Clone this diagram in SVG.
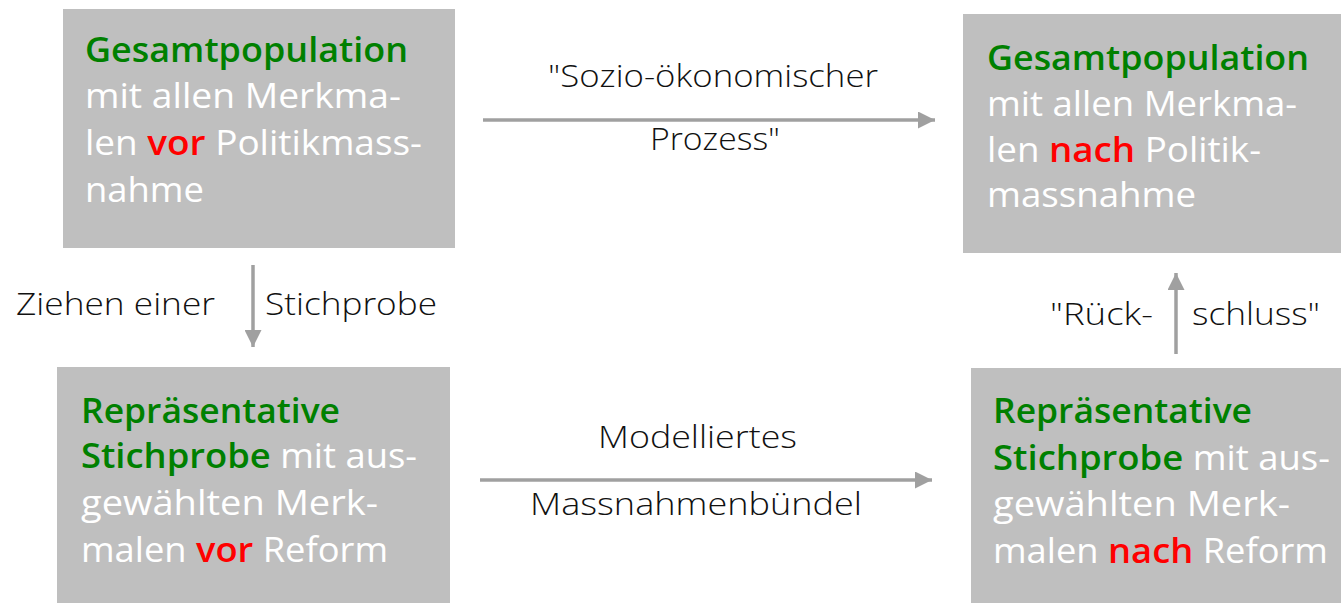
<svg xmlns="http://www.w3.org/2000/svg" width="1341" height="603" viewBox="0 0 1341 603">
<style>
.box{fill:#bfbfbf}
.bt{font-family:"Open Sans","Liberation Sans",sans-serif;font-size:35px;fill:#ffffff;font-weight:500}
.g{fill:#008000;font-weight:600}
.r{fill:#ff0000;font-weight:600}
.lb{font-family:"Open Sans","Liberation Sans",sans-serif;font-size:32px;fill:#111111;font-weight:300}
.conn{stroke:#a0a0a0;stroke-width:3.5;fill:none}
</style>
<defs>
<marker id="ah" viewBox="0 0 10 10" refX="10" refY="5" markerWidth="17" markerHeight="17" markerUnits="userSpaceOnUse" orient="auto">
<path d="M0,0 L10,5 L0,10 Z" fill="#a0a0a0"/>
</marker>
</defs>
<rect width="1341" height="603" fill="#ffffff"/>
<g id="node-pop-vor">
<rect class="box" x="63" y="9" width="392" height="239"/>
<text class="bt" x="85" y="62" textLength="323" lengthAdjust="spacingAndGlyphs"><tspan class="g">Gesamtpopulation</tspan></text>
<text class="bt" x="85" y="108" textLength="316" lengthAdjust="spacingAndGlyphs">mit allen Merkma-</text>
<text class="bt" x="85" y="155" textLength="337" lengthAdjust="spacingAndGlyphs">len <tspan class="r">vor</tspan> Politikmass-</text>
<text class="bt" x="85" y="202" textLength="119" lengthAdjust="spacingAndGlyphs">nahme</text>
</g>
<g id="node-pop-nach">
<rect class="box" x="963" y="14" width="378" height="239"/>
<text class="bt" x="987" y="70" textLength="322" lengthAdjust="spacingAndGlyphs"><tspan class="g">Gesamtpopulation</tspan></text>
<text class="bt" x="987" y="116" textLength="310" lengthAdjust="spacingAndGlyphs">mit allen Merkma-</text>
<text class="bt" x="987" y="162" textLength="274" lengthAdjust="spacingAndGlyphs">len <tspan class="r">nach</tspan> Politik-</text>
<text class="bt" x="987" y="207" textLength="209" lengthAdjust="spacingAndGlyphs">massnahme</text>
</g>
<g id="node-stich-vor">
<rect class="box" x="57" y="367" width="393" height="236"/>
<text class="bt" x="81" y="423" textLength="259" lengthAdjust="spacingAndGlyphs"><tspan class="g">Repräsentative</tspan></text>
<text class="bt" x="81" y="468" textLength="336" lengthAdjust="spacingAndGlyphs"><tspan class="g">Stichprobe</tspan> mit aus-</text>
<text class="bt" x="81" y="515" textLength="297" lengthAdjust="spacingAndGlyphs">gewählten Merk-</text>
<text class="bt" x="81" y="562" textLength="307" lengthAdjust="spacingAndGlyphs">malen <tspan class="r">vor</tspan> Reform</text>
</g>
<g id="node-stich-nach">
<rect class="box" x="971" y="368" width="370" height="235"/>
<text class="bt" x="993" y="423" textLength="259" lengthAdjust="spacingAndGlyphs"><tspan class="g">Repräsentative</tspan></text>
<text class="bt" x="993" y="470" textLength="337" lengthAdjust="spacingAndGlyphs"><tspan class="g">Stichprobe</tspan> mit aus-</text>
<text class="bt" x="993" y="516" textLength="297" lengthAdjust="spacingAndGlyphs">gewählten Merk-</text>
<text class="bt" x="993" y="563" textLength="335" lengthAdjust="spacingAndGlyphs">malen <tspan class="r">nach</tspan> Reform</text>
</g>
<g id="connectors">
<line class="conn" x1="483" y1="120" x2="935" y2="120" marker-end="url(#ah)"/>
<line class="conn" x1="480" y1="480" x2="932" y2="480" marker-end="url(#ah)"/>
<line class="conn" x1="253" y1="265" x2="253" y2="347" marker-end="url(#ah)"/>
<line class="conn" x1="1176" y1="354" x2="1176" y2="273" marker-end="url(#ah)"/>
<text class="lb" x="548" y="87" textLength="330" lengthAdjust="spacingAndGlyphs">"Sozio-ökonomischer</text>
<text class="lb" x="650" y="150" textLength="130" lengthAdjust="spacingAndGlyphs">Prozess"</text>
<text class="lb" x="598" y="448" textLength="199" lengthAdjust="spacingAndGlyphs">Modelliertes</text>
<text class="lb" x="530" y="515" textLength="332" lengthAdjust="spacingAndGlyphs">Massnahmenbündel</text>
<text class="lb" x="16" y="315" textLength="199" lengthAdjust="spacingAndGlyphs">Ziehen einer</text>
<text class="lb" x="265" y="315" textLength="172" lengthAdjust="spacingAndGlyphs">Stichprobe</text>
<text class="lb" x="1050" y="325" textLength="103" lengthAdjust="spacingAndGlyphs">"Rück-</text>
<text class="lb" x="1192" y="325" textLength="128" lengthAdjust="spacingAndGlyphs">schluss"</text>
</g>
</svg>
